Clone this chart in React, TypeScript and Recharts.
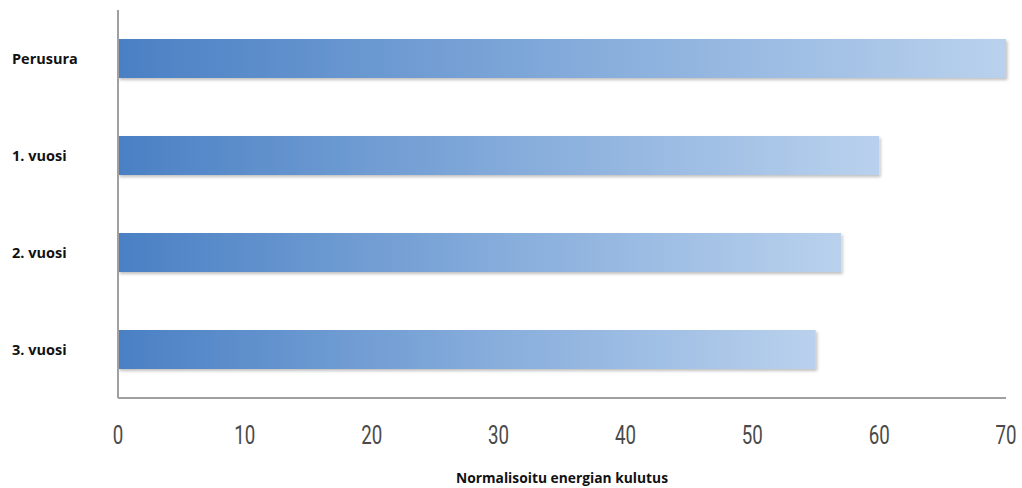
import { BarChart, Bar, XAxis, YAxis, Label } from 'recharts';

const categories = ['Perusura', '1. vuosi', '2. vuosi', '3. vuosi'];
const consumption = [70, 60, 57, 55];
const xTicks = [0, 10, 20, 30, 40, 50, 60, 70];
const axisTitle = 'Normalisoitu energian kulutus';

const data = categories.map((name, i) => ({ name, value: consumption[i] }));

const YTick = (props: any) => {
  const { y, payload } = props;
  return (
    <text
      x={12}
      y={y}
      dy={5}
      textAnchor="start"
      fontFamily="'Open Sans', sans-serif"
      fontWeight={700}
      fontSize={14.5}
      fill="#111"
    >
      {payload.value}
    </text>
  );
};

// condensed numerals: squeeze a regular face horizontally
const XTick = (props: any) => {
  const { x, y, payload } = props;
  return (
    <g transform={`translate(${x},${y + 38}) scale(0.72,1)`}>
      <text
        x={0}
        y={0}
        textAnchor="middle"
        fontFamily="Roboto, sans-serif"
        fontSize={26}
        fill="#4a4a4a"
      >
        {payload.value}
      </text>
    </g>
  );
};

export default function App() {
  return (
    <div style={{ position: 'absolute', left: 0, top: 0, width: 1022, height: 488, background: '#fff' }}>
      <BarChart
        width={1022}
        height={488}
        data={data}
        layout="vertical"
        margin={{ top: 10, right: 16, left: 0, bottom: 0 }}
        barSize={39}
      >
        <defs>
          <linearGradient id="barGrad" x1="0" y1="0" x2="1" y2="0">
            <stop offset="0%" stopColor="#4a80c4" />
            <stop offset="55%" stopColor="#88aedc" />
            <stop offset="100%" stopColor="#b9d1ed" />
          </linearGradient>
          <filter id="barShadow" x="-5%" y="-30%" width="110%" height="170%">
            <feDropShadow dx="1.5" dy="2" stdDeviation="1.5" floodColor="#000" floodOpacity="0.25" />
          </filter>
        </defs>
        <XAxis
          type="number"
          domain={[0, 70]}
          ticks={xTicks}
          height={90}
          axisLine={{ stroke: '#a0a0a0', strokeWidth: 2 }}
          tickLine={false}
          tick={<XTick />}
          interval={0}
        >
          <Label
            value={axisTitle}
            position="insideBottom"
            offset={5}
            fontFamily="'Open Sans', sans-serif"
            fontWeight={700}
            fontSize={13.8}
            fill="#111"
          />
        </XAxis>
        <YAxis
          type="category"
          dataKey="name"
          width={118}
          axisLine={{ stroke: '#a0a0a0', strokeWidth: 2 }}
          tickLine={false}
          tick={<YTick />}
        />
        <Bar
          dataKey="value"
          fill="url(#barGrad)"
          filter="url(#barShadow)"
          isAnimationActive={false}
        />
      </BarChart>
    </div>
  );
}
